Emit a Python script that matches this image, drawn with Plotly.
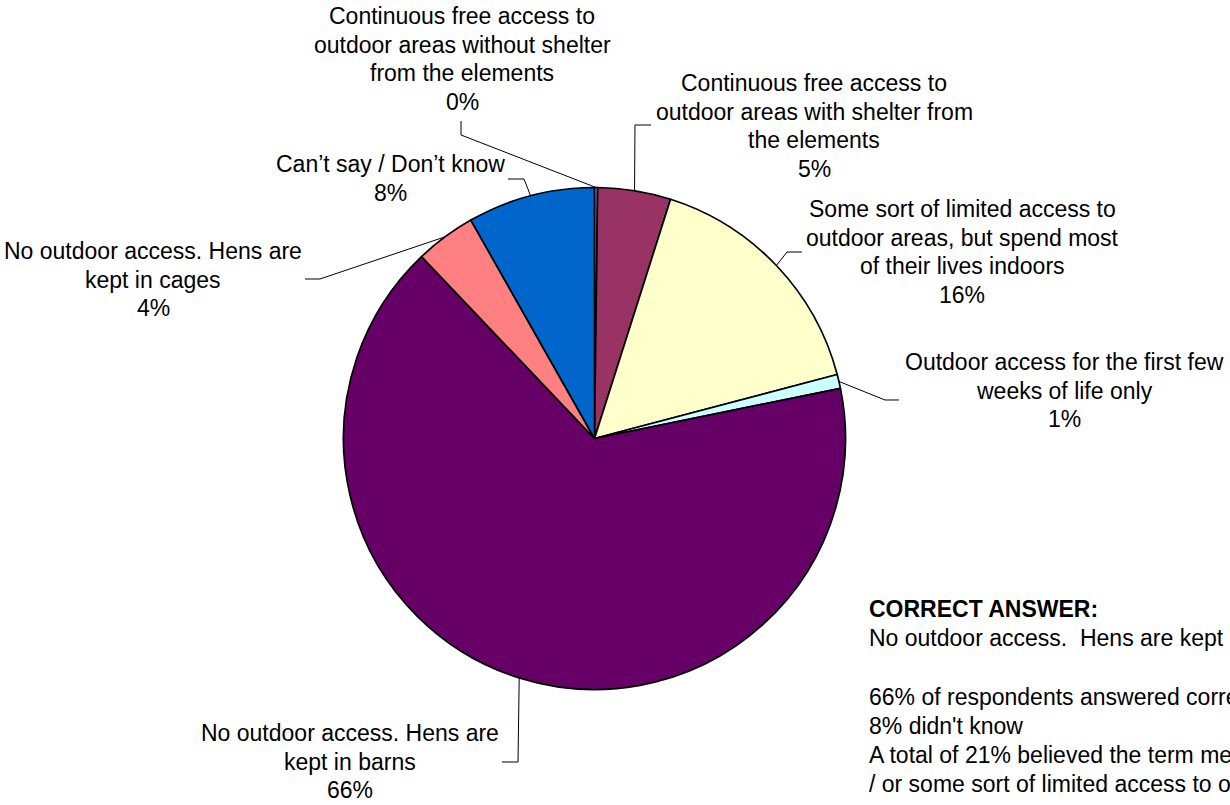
import math
import plotly.graph_objects as go

# ---------------- data ----------------
categories = [
    "Continuous free access to outdoor areas without shelter from the elements",
    "Continuous free access to outdoor areas with shelter from the elements",
    "Some sort of limited access to outdoor areas, but spend most of their lives indoors",
    "Outdoor access for the first few weeks of life only",
    "No outdoor access. Hens are kept in barns",
    "No outdoor access. Hens are kept in cages",
    "Can\u2019t say / Don\u2019t know",
]
values = [0.2, 4.7, 16.0, 0.9, 66.1, 3.9, 8.2]
label_lines = [
    ["Continuous free access to", "outdoor areas without shelter", "from the elements"],
    ["Continuous free access to", "outdoor areas with shelter from", "the elements"],
    ["Some sort of limited access to", "outdoor areas, but spend most", "of their lives indoors"],
    ["Outdoor access for the first few", "weeks of life only"],
    ["No outdoor access. Hens are", "kept in barns"],
    ["No outdoor access. Hens are", "kept in cages"],
    ["Can\u2019t say / Don\u2019t know"],
]
colors = ["#9999FF", "#993366", "#FFFFCC", "#CCFFFF", "#660066", "#FF8080", "#0066CC"]

note_title = "CORRECT ANSWER:"
note_lines = [
    "No outdoor access.\u00a0 Hens are kept in barns",
    "",
    "66% of respondents answered correctly",
    "8% didn't know",
    "A total of 21% believed the term meant continuous free access",
    "/ or some sort of limited access to outdoor areas",
]

# ---------------- layout constants (pixels) ----------------
W, H = 1230, 805
CX, CY, R = 594.5, 438.5, 251.0
FONT = "Liberation Sans, Arial, Helvetica, sans-serif"
FS = 23
LS = 28.7

# label placement: (center x, first-line center y, elbow points)
label_pos = [
    (462, 16, [(461, 121), (461, 135)]),
    (814, 83, [(651, 125), (635, 125)]),
    (962, 209, [(802, 252), (787, 252)]),
    (1064, 362, [(899, 400), (885, 400)]),
    (350, 733, [(502, 762), (518, 762)]),
    (153, 251, [(305, 279), (320, 279)]),
    (390, 164, [(508, 179), (524, 179)]),
]


def px(x):
    return x / W


def py(y):
    return 1 - y / H


fig = go.Figure(
    go.Pie(
        labels=categories,
        values=values,
        sort=False,
        direction="clockwise",
        rotation=0,
        marker=dict(colors=colors, line=dict(color="black", width=1.7)),
        textinfo="none",
        hoverinfo="label+percent",
        domain=dict(x=[px(CX - R), px(CX + R)], y=[py(CY + R), py(CY - R)]),
        showlegend=False,
    )
)

annotations = []
shapes = []
total = sum(values)
cum = 0.0
for i, v in enumerate(values):
    mid = (cum + v / 2) / total
    cum += v
    ang = 2 * math.pi * mid
    ex, ey = CX + R * math.sin(ang), CY - R * math.cos(ang)
    cx, y0, elbow = label_pos[i]
    lines = label_lines[i] + [f"{round(v / total * 100)}%"]
    for k, t in enumerate(lines):
        annotations.append(dict(
            x=px(cx), y=py(y0 + k * LS), xref="paper", yref="paper",
            text=t, showarrow=False, xanchor="center", yanchor="middle",
            font=dict(family=FONT, size=FS, color="black"),
        ))
    pts = elbow + [(ex, ey)]
    path = "M " + " L ".join(f"{px(a):.5f},{py(b):.5f}" for a, b in pts)
    shapes.append(dict(type="path", path=path, xref="paper", yref="paper",
                       line=dict(color="black", width=1)))

NX, NY = 867, 609
annotations.append(dict(
    x=px(NX), y=py(NY), xref="paper", yref="paper", text=f"<b>{note_title}</b>",
    showarrow=False, xanchor="left", yanchor="middle",
    font=dict(family=FONT, size=FS, color="black"),
))
for k, t in enumerate(note_lines):
    if not t:
        continue
    annotations.append(dict(
        x=px(NX), y=py(NY + (k + 1) * 29.2), xref="paper", yref="paper", text=t,
        showarrow=False, xanchor="left", yanchor="middle",
        font=dict(family=FONT, size=FS, color="black"),
    ))

fig.update_layout(
    width=W, height=H,
    margin=dict(l=0, r=0, t=0, b=0),
    paper_bgcolor="white", plot_bgcolor="white",
    annotations=annotations, shapes=shapes,
    font=dict(family=FONT, size=FS, color="black"),
)

fig.write_html(
    "out.html",
    config={"displayModeBar": False},
    post_script="document.body.style.margin='0';document.body.style.overflow='hidden';",
)
